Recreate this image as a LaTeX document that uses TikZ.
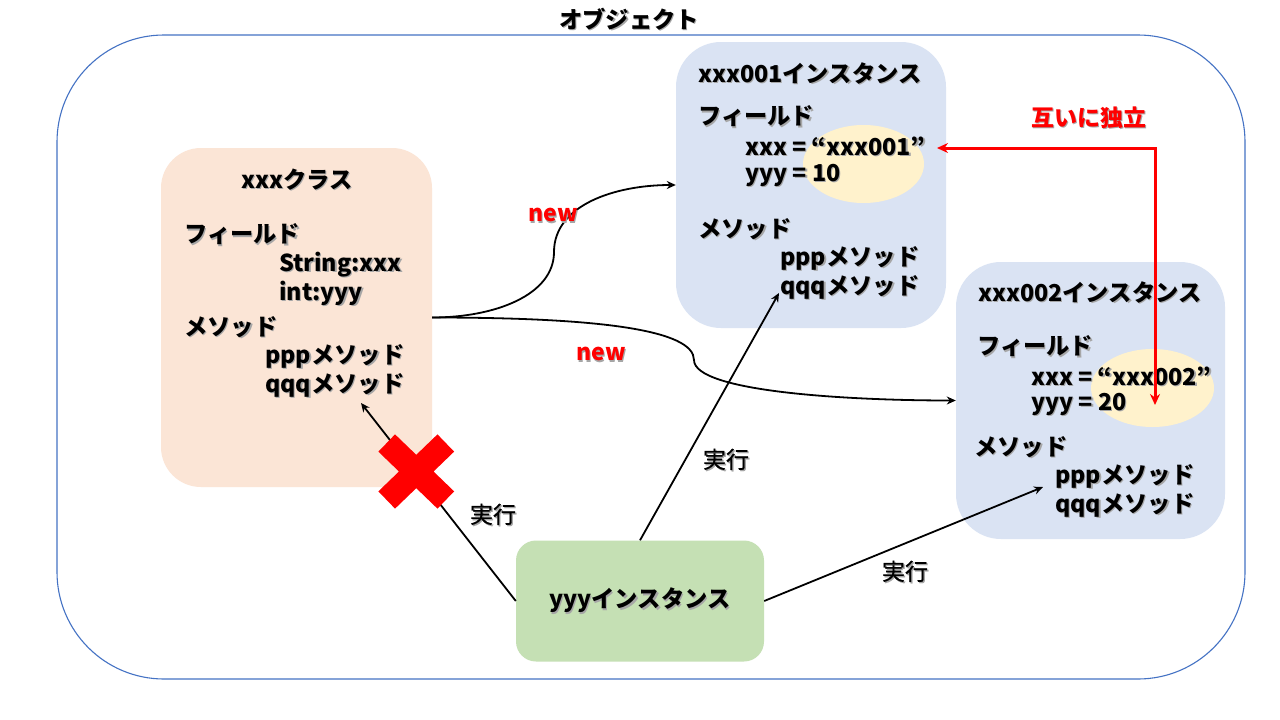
\documentclass[tikz,border=0pt]{standalone}
\usepackage{fontspec}
\setmainfont{Noto Sans CJK JP}
\newfontfamily\runfont{Noto Sans CJK JP}[FakeBold=0.6]
\usetikzlibrary{arrows.meta,shapes.geometric}
\definecolor{classfill}{HTML}{FBE5D6}
\definecolor{instfill}{HTML}{DAE3F3}
\definecolor{yyyfill}{HTML}{C5E0B4}
\definecolor{ellfill}{HTML}{FFF2CC}
\definecolor{outerline}{HTML}{4472C4}
\definecolor{pptred}{HTML}{FF0000}
\newcommand\shd[1]{\makebox[0pt][l]{\hspace{1.3pt}\raisebox{-1.3pt}{\textcolor{black!35}{#1}}}#1}
\tikzset{
  txt/.style={anchor=west, inner sep=0pt, font=\fontsize{23.3}{27}\selectfont\bfseries},
  ctxt/.style={inner sep=0pt, font=\fontsize{23.3}{27}\selectfont\bfseries},
  runlbl/.style={inner sep=0pt, font=\fontsize{23}{27}\selectfont\runfont},
  newlbl/.style={inner sep=0pt, text=pptred, font=\fontsize{23}{27}\selectfont\bfseries},
  panel/.style={draw=none, inner sep=0pt},
  ellbox/.style={ellipse, fill=ellfill, inner sep=0pt},
  arr/.style={-{Stealth[length=9pt,width=8pt]}, line width=1.8pt, black},
  redarr/.style={{Stealth[length=11pt,width=10pt]}-{Stealth[length=11pt,width=10pt]}, line width=3pt, pptred},
}
\begin{document}
\begin{tikzpicture}[x=1pt,y=-1pt]
\useasboundingbox[fill=white] (0,0) rectangle (1280,720);
% outer object frame
\node[panel, draw=outerline, line width=1.1pt, rounded corners=107pt, minimum width=1188pt, minimum height=644pt] (outer) at (651,357) {};
\node[ctxt] (title) at (629,20) {\shd{オブジェクト}};
% boxes
\node[panel, fill=classfill, rounded corners=40pt, minimum width=271pt, minimum height=339pt] (cls) at (296.5,317.5) {};
\node[panel, fill=instfill, rounded corners=45pt, minimum width=270pt, minimum height=286pt] (i1) at (811,185) {};
\node[panel, fill=instfill, rounded corners=45pt, minimum width=269pt, minimum height=277pt] (i2) at (1090.5,400.5) {};
\node[panel, fill=yyyfill, rounded corners=20pt, minimum width=248pt, minimum height=121pt] (yyy) at (640,601) {};
% ellipses
\node[ellbox, minimum width=121pt, minimum height=78pt] (e1) at (863.5,164) {};
\node[ellbox, minimum width=123pt, minimum height=78pt] (e2) at (1152.5,388) {};
% class text
\node[ctxt] (clsT) at (297,180) {\shd{xxxクラス}};
\node[txt] (clsF) at (184,235) {\shd{フィールド}};
\node[txt] (clsF1) at (279,265) {\shd{String:xxx}};
\node[txt] (clsF2) at (279,294) {\shd{int:yyy}};
\node[txt] (clsM) at (184,328) {\shd{メソッド}};
\node[txt] (clsM1) at (265,357) {\shd{pppメソッド}};
\node[txt] (clsM2) at (265,386) {\shd{qqqメソッド}};
% instance 001 text
\node[txt] (i1T) at (698,74) {\shd{xxx001インスタンス}};
\node[txt] (i1F) at (698,117) {\shd{フィールド}};
\node[txt] (i1F1) at (745,147) {\shd{xxx = “xxx001”}};
\node[txt] (i1F2) at (745,176) {\shd{yyy = 10}};
\node[txt] (i1M) at (698,230) {\shd{メソッド}};
\node[txt] (i1M1) at (780,259) {\shd{pppメソッド}};
\node[txt] (i1M2) at (780,288) {\shd{qqqメソッド}};
% instance 002 text
\node[txt] (i2T) at (978,293) {\shd{xxx002インスタンス}};
\node[txt] (i2F) at (977,347) {\shd{フィールド}};
\node[txt] (i2F1) at (1031,377) {\shd{xxx = “xxx002”}};
\node[txt] (i2F2) at (1031,405) {\shd{yyy = 20}};
\node[txt] (i2M) at (974,448) {\shd{メソッド}};
\node[txt] (i2M1) at (1055,477) {\shd{pppメソッド}};
\node[txt] (i2M2) at (1055,506) {\shd{qqqメソッド}};
% yyy text
\node[ctxt] (yyyT) at (640,601) {\shd{yyyインスタンス}};
% connector end points
\coordinate (tcls) at (361,403);
\coordinate (ti1) at (779,293);
\coordinate (ti2) at (1043,487);
\coordinate (r1) at (937,148);
\coordinate (r2) at (1155,405);
\coordinate (ctr) at (1155,148);
% new arrows
\draw[arr] (cls.east) .. controls (495,317.5) and (554,295) .. (554,252) .. controls (554,205) and (615,185) .. (i1.west);
\draw[arr] (cls.east) .. controls (600,317.5) and (694,330) .. (694,360) .. controls (694,392) and (850,400.5) .. (i2.west);
\node[newlbl] (new1) at (553,216) {\shd{new}};
\node[newlbl] (new2) at (601,355) {\shd{new}};
% execution arrows
\draw[arr] (yyy.west) -- (tcls);
\draw[arr] (yyy.north) -- (ti1);
\draw[arr] (yyy.east) -- (ti2);
\node[runlbl] (run1) at (493,515) {\shd{実行}};
\node[runlbl] (run2) at (726,460) {\shd{実行}};
\node[runlbl] (run3) at (905,572) {\shd{実行}};
% independence arrow
\draw[redarr] (r2) -- (ctr) -- (r1);
\node[newlbl] (indep) at (1089,118) {\shd{互いに独立}};
% red cross
\draw[pptred, line width=24pt] (386.7,443) -- (445.8,500) (445.8,443) -- (386.7,500);
\end{tikzpicture}
\end{document}
